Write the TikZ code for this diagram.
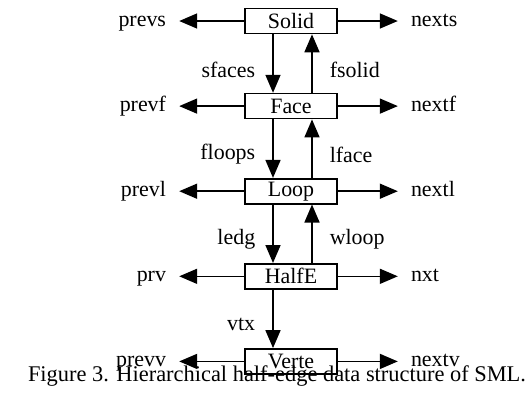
\documentclass[tikz,border=0pt]{standalone}
\usepackage{fontspec}
\setmainfont{Liberation Serif}
\usetikzlibrary{arrows.meta,positioning}
\tikzset{
  rec/.style={rectangle,draw,line width=1.6bp,minimum width=92bp,
    minimum height=25bp,inner sep=0pt,font=\fontsize{22}{24}\selectfont},
  lbl/.style={inner xsep=13bp,inner ysep=0pt,text height=10bp,text depth=0pt,
    font=\fontsize{22}{24}\selectfont},
  vlbl/.style={inner xsep=17bp,inner ysep=0pt,font=\fontsize{22}{24}\selectfont},
  arr/.style={-{Triangle[length=18bp,width=15bp]},line width=1.6bp},
}
\begin{document}
\begin{tikzpicture}[x=1bp,y=1bp,node distance=58.5bp and 65bp]
  \useasboundingbox (0,0) rectangle (529,-395);
  \node[rec] (solid) at (291,-21) {Solid};
  \node[rec,below=of solid] (face) {Face};
  \node[rec,below=of face] (loop) {Loop};
  \node[rec,below=of loop] (halfe) {HalfE};
  \node[rec,below=of halfe] (verte) {Verte};

  \node[lbl,left=of solid] (prevs) {prevs};
  \node[lbl,right=60bp of solid] (nexts) {nexts};
  \node[lbl,left=of face] (prevf) {prevf};
  \node[lbl,right=60bp of face] (nextf) {nextf};
  \node[lbl,left=of loop] (prevl) {prevl};
  \node[lbl,right=60bp of loop] (nextl) {nextl};
  \node[lbl,left=of halfe] (prv) {prv};
  \node[lbl,right=60bp of halfe] (nxt) {nxt};
  \node[lbl,left=of verte] (prevv) {prevv};
  \node[lbl,right=60bp of verte] (nextv) {nextv};

  \draw[arr] (solid) -- (prevs);
  \draw[arr] (solid) -- (nexts);
  \draw[arr] (face) -- (prevf);
  \draw[arr] (face) -- (nextf);
  \draw[arr] (loop) -- (prevl);
  \draw[arr] (loop) -- (nextl);
  \draw[arr] (halfe) -- (prv);
  \draw[arr] (halfe) -- (nxt);
  \draw[arr] (verte) -- (prevv);
  \draw[arr] (verte) -- (nextv);

  \draw[arr] ([xshift=-18bp]solid.south) -- node[vlbl,left,pos=0.6] {sfaces} ([xshift=-18bp]face.north);
  \draw[arr] ([xshift=21bp]face.north) -- node[vlbl,right,pos=0.4] {fsolid} ([xshift=21bp]solid.south);
  \draw[arr] ([xshift=-18bp]face.south) -- node[vlbl,left,pos=0.6] {floops} ([xshift=-18bp]loop.north);
  \draw[arr] ([xshift=21bp]loop.north) -- node[vlbl,right,pos=0.4] {lface} ([xshift=21bp]face.south);
  \draw[arr] ([xshift=-18bp]loop.south) -- node[vlbl,left,pos=0.6] {ledg} ([xshift=-18bp]halfe.north);
  \draw[arr] ([xshift=21bp]halfe.north) -- node[vlbl,right,pos=0.4] {wloop} ([xshift=21bp]loop.south);
  \draw[arr] ([xshift=-18bp]halfe.south) -- node[vlbl,left,pos=0.6] {vtx} ([xshift=-18bp]verte.north);

  \node[font=\fontsize{22.5}{24}\selectfont,anchor=base] (caption) at (277,-381)
    {Figure 3. Hierarchical half-edge data structure of SML.};
\end{tikzpicture}
\end{document}
